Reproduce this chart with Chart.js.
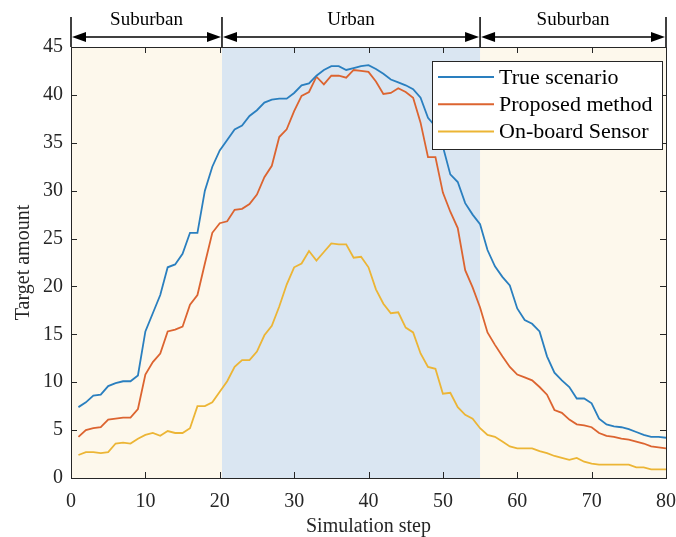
<!DOCTYPE html>
<html>
<head>
<meta charset="utf-8">
<script src="https://cdn.jsdelivr.net/npm/chart.js@4/dist/chart.umd.min.js"></script>
<style>
  html, body { margin: 0; padding: 0; background: #fff; }
  #wrap { width: 676px; height: 537px; }
</style>
</head>
<body>
<div id="wrap"><canvas id="myChart" width="676" height="537"></canvas></div>
<script>
// Data
const steps = [1,2,3,4,5,6,7,8,9,10,11,12,13,14,15,16,17,18,19,20,
  21,22,23,24,25,26,27,28,29,30,31,32,33,34,35,36,37,38,39,40,
  41,42,43,44,45,46,47,48,49,50,51,52,53,54,55,56,57,58,59,60,
  61,62,63,64,65,66,67,68,69,70,71,72,73,74,75,76,77,78,79,80]

const trueScenario = [7.4,7.9,8.6,8.7,9.6,9.9,10.1,10.1,10.7,15.3,17.2,19.1,22.0,22.3,23.4,25.6,25.6,30.0,32.5,34.2,
  35.3,36.4,36.8,37.8,38.4,39.2,39.5,39.6,39.6,40.2,41.0,41.2,42.0,42.6,43.0,43.0,42.6,42.8,43.0,43.1,
  42.7,42.2,41.6,41.3,41.0,40.6,39.7,37.6,36.7,34.6,31.7,30.9,28.7,27.5,26.5,23.8,22.1,21.0,20.1,17.7,
  16.5,16.1,15.3,12.7,11.0,10.2,9.5,8.3,8.3,7.8,6.2,5.6,5.4,5.3,5.1,4.8,4.5,4.3,4.3,4.2]

const proposed = [4.3,5.0,5.2,5.3,6.1,6.2,6.3,6.3,7.2,10.8,12.1,13.0,15.3,15.5,15.8,18.1,19.1,22.4,25.6,26.6,
  26.8,28.0,28.1,28.6,29.6,31.4,32.6,35.6,36.4,38.3,39.9,40.3,41.9,41.1,42.0,42.0,41.8,42.6,42.5,42.4,
  41.4,40.1,40.2,40.7,40.3,39.7,37.1,33.5,33.5,29.8,27.8,26.1,21.7,19.9,17.8,15.2,13.9,12.7,11.6,10.8,
  10.5,10.2,9.5,8.7,7.1,6.8,6.1,5.6,5.5,5.3,4.7,4.4,4.3,4.1,4.0,3.8,3.6,3.3,3.2,3.1]

const onboard = [2.4,2.7,2.7,2.6,2.7,3.6,3.7,3.6,4.1,4.5,4.7,4.4,4.9,4.7,4.7,5.2,7.5,7.5,7.9,9.0,
  10.1,11.6,12.3,12.3,13.2,14.9,15.9,17.9,20.2,22.0,22.4,23.7,22.7,23.6,24.5,24.4,24.4,23.0,23.1,22.0,
  19.7,18.2,17.2,17.3,15.7,15.2,13.0,11.6,11.4,8.8,8.9,7.4,6.6,6.2,5.2,4.5,4.3,3.8,3.3,3.1,
  3.1,3.1,2.8,2.6,2.3,2.1,1.9,2.1,1.7,1.5,1.4,1.4,1.4,1.4,1.4,1.1,1.1,0.9,0.9,0.9]

const seriesNames = ['True scenario', 'Proposed method', 'On-board Sensor']
const seriesColors = ['#2a7fbf', '#dc6430', '#ecb535']

const xTicks = [0, 10, 20, 30, 40, 50, 60, 70, 80]
const yTicks = [0, 5, 10, 15, 20, 25, 30, 35, 40, 45]

// area zones along the x axis
const zoneBounds = [0, 20.3, 55, 80]
const zoneNames = ['Suburban', 'Urban', 'Suburban']
const zoneColors = ['#fdf8ec', '#dae6f2', '#fdf8ec']

const serif = "'Liberation Serif', 'Times New Roman', serif"
const axisColor = '#262626'

const toPoints = vals => steps.map((s, i) => ({ x: s, y: vals[i] }))

// Backgrounds, box, inward ticks, zone arrows and legend
const decor = {
  id: 'decor',
  beforeDatasetsDraw(chart) {
    const { ctx, chartArea: a, scales: { x } } = chart
    ctx.save()
    for (let i = 0; i < zoneNames.length; i++) {
      const x0 = x.getPixelForValue(zoneBounds[i])
      const x1 = x.getPixelForValue(zoneBounds[i + 1])
      ctx.fillStyle = zoneColors[i]
      ctx.fillRect(x0, a.top, x1 - x0, a.bottom - a.top)
    }
    ctx.restore()
  },
  afterDatasetsDraw(chart) {
    const { ctx, chartArea: a, scales: { x, y } } = chart
    ctx.save()

    // ticks pointing inward
    ctx.strokeStyle = axisColor
    ctx.lineWidth = 1
    const tl = 6
    ctx.beginPath()
    xTicks.forEach(v => {
      const px = Math.round(x.getPixelForValue(v)) + 0.5
      ctx.moveTo(px, a.bottom); ctx.lineTo(px, a.bottom - tl)
      ctx.moveTo(px, a.top); ctx.lineTo(px, a.top + tl)
    })
    yTicks.forEach(v => {
      const py = Math.round(y.getPixelForValue(v)) + 0.5
      ctx.moveTo(a.left, py); ctx.lineTo(a.left + tl, py)
      ctx.moveTo(a.right, py); ctx.lineTo(a.right - tl, py)
    })
    ctx.stroke()

    // box
    ctx.strokeStyle = axisColor
    ctx.strokeRect(Math.round(a.left) + 0.5, Math.round(a.top) + 0.5,
      Math.round(a.right - a.left), Math.round(a.bottom - a.top))

    // zone markers above the plot
    ctx.strokeStyle = '#000'
    ctx.fillStyle = '#000'
    ctx.lineWidth = 1.5
    const arrowY = a.top - 10
    zoneBounds.forEach(v => {
      const px = x.getPixelForValue(v)
      ctx.beginPath()
      ctx.moveTo(px, a.top - 30)
      ctx.lineTo(px, a.top)
      ctx.stroke()
    })
    const head = 14, hw = 5
    for (let i = 0; i < zoneNames.length; i++) {
      const x0 = x.getPixelForValue(zoneBounds[i]) + 1
      const x1 = x.getPixelForValue(zoneBounds[i + 1]) - 1
      ctx.beginPath()
      ctx.moveTo(x0 + head - 2, arrowY)
      ctx.lineTo(x1 - head + 2, arrowY)
      ctx.stroke()
      ctx.beginPath()
      ctx.moveTo(x0, arrowY); ctx.lineTo(x0 + head, arrowY - hw); ctx.lineTo(x0 + head, arrowY + hw)
      ctx.closePath(); ctx.fill()
      ctx.beginPath()
      ctx.moveTo(x1, arrowY); ctx.lineTo(x1 - head, arrowY - hw); ctx.lineTo(x1 - head, arrowY + hw)
      ctx.closePath(); ctx.fill()
      ctx.font = '19px ' + serif
      ctx.textAlign = 'center'
      ctx.textBaseline = 'middle'
      ctx.fillStyle = '#000'
      ctx.fillText(zoneNames[i], (x0 + x1) / 2, a.top - 27)
    }

    // legend
    const lx = a.right - 234, ly = a.top + 14, lw = 230, lh = 88
    ctx.fillStyle = '#fff'
    ctx.fillRect(lx, ly, lw, lh)
    ctx.strokeStyle = '#262626'
    ctx.lineWidth = 1
    ctx.strokeRect(Math.round(lx) + 0.5, Math.round(ly) + 0.5, lw, lh)
    ctx.font = '22px ' + serif
    ctx.textAlign = 'left'
    ctx.textBaseline = 'middle'
    chart.data.datasets.forEach((ds, i) => {
      const ry = ly + 16 + i * 27.2
      ctx.strokeStyle = ds.borderColor
      ctx.lineWidth = 2
      ctx.beginPath()
      ctx.moveTo(lx + 6, ry); ctx.lineTo(lx + 62, ry)
      ctx.stroke()
      ctx.fillStyle = '#000'
      ctx.fillText(ds.label, lx + 67, ry + 1)
    })
    ctx.restore()
  }
}

const ctx = document.getElementById('myChart').getContext('2d')
const chart = new Chart(ctx, {
  type: 'line',
  data: {
    datasets: [trueScenario, proposed, onboard].map((vals, i) => ({
      label: seriesNames[i],
      data: toPoints(vals),
      borderColor: seriesColors[i],
      backgroundColor: seriesColors[i],
      borderWidth: 1.8,
      pointRadius: 0,
      tension: 0
    }))
  },
  options: {
    responsive: false,
    animation: false,
    devicePixelRatio: 1,
    layout: { padding: { top: 47, right: 10, left: 0, bottom: 0 } },
    plugins: { legend: { display: false }, tooltip: { enabled: false } },
    scales: {
      x: {
        type: 'linear', min: 0, max: 80,
        afterFit: s => { s.height = 59; s.paddingRight = 0; s.paddingLeft = 0 },
        afterBuildTicks: s => { s.ticks = xTicks.map(v => ({ value: v })) },
        grid: { display: false, drawTicks: false },
        border: { display: false },
        ticks: { color: axisColor, padding: 12, maxRotation: 0, font: { family: serif, size: 20 } },
        title: { display: true, text: 'Simulation step', color: axisColor,
          padding: { top: 0, bottom: 0 }, font: { family: serif, size: 20, lineHeight: 1 } }
      },
      y: {
        min: 0, max: 45,
        afterFit: s => { s.width = 71 },
        afterBuildTicks: s => { s.ticks = yTicks.map(v => ({ value: v })) },
        grid: { display: false, drawTicks: false },
        border: { display: false },
        ticks: { color: axisColor, padding: 8, font: { family: serif, size: 20 } },
        title: { display: true, text: 'Target amount', color: axisColor,
          padding: { top: 14, bottom: 0 }, font: { family: serif, size: 20, lineHeight: 1 } }
      }
    }
  },
  plugins: [decor]
})
</script>
</body>
</html>
